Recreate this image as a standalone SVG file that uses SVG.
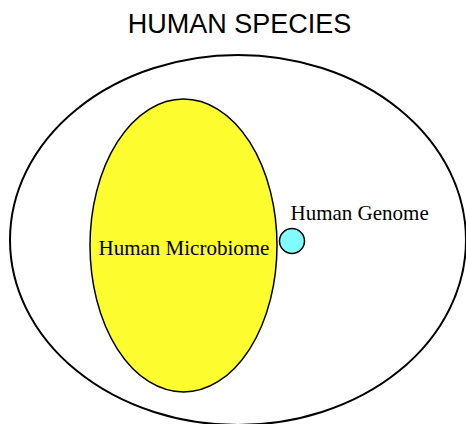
<svg xmlns="http://www.w3.org/2000/svg" width="466" height="424" viewBox="0 0 466 424">
<style>
.title{font-family:"Liberation Sans",Arial,sans-serif;font-size:27px;fill:#000}
.lbl{font-family:"Liberation Serif","Times New Roman",serif;font-size:21px;fill:#000}
</style>
<rect width="466" height="424" fill="#fff"/>
<text class="title" x="239.5" y="33" text-anchor="middle">HUMAN SPECIES</text>
<g id="species">
<ellipse cx="238" cy="240" rx="228" ry="185" fill="#fff" stroke="#000" stroke-width="2"/>
</g>
<g id="microbiome">
<ellipse cx="183.5" cy="245.5" rx="93.5" ry="146.5" fill="#FCFC2E" stroke="#000" stroke-width="1.5"/>
<text class="lbl" x="184" y="255" text-anchor="middle">Human Microbiome</text>
</g>
<g id="genome">
<circle cx="292" cy="241" r="12.5" fill="#80FCFC" stroke="#000" stroke-width="1.5"/>
<text class="lbl" x="290.5" y="220">Human Genome</text>
</g>
<g id="connectors"/>
</svg>
